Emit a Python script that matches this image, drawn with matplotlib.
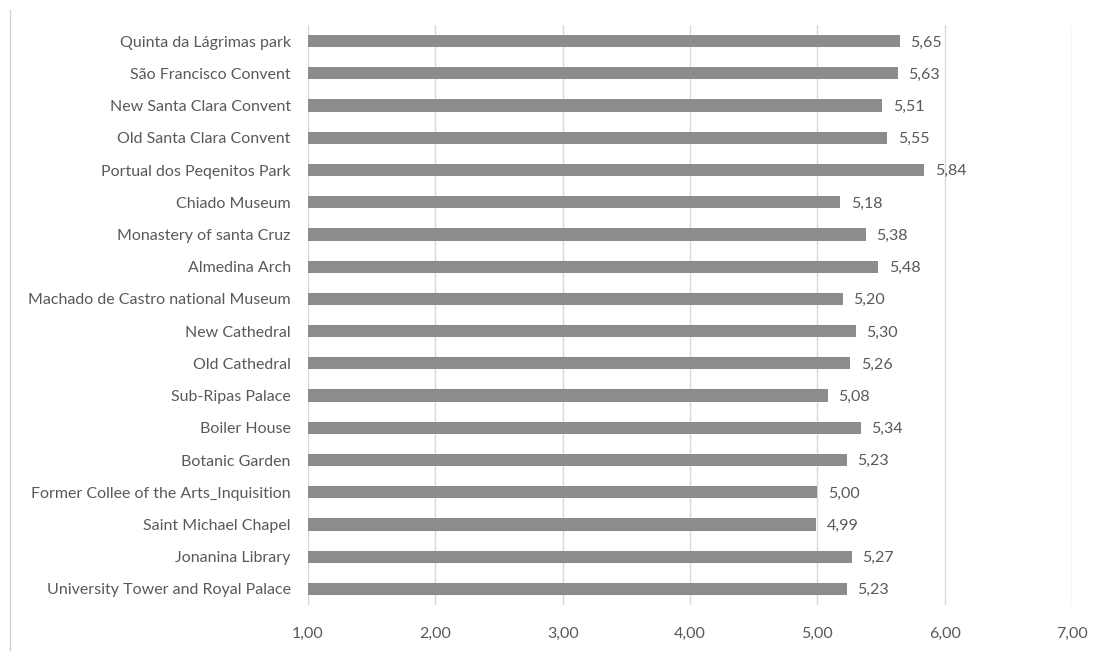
import matplotlib
matplotlib.use("Agg")
import matplotlib.pyplot as plt
from matplotlib.lines import Line2D

categories = [
    "University Tower and Royal Palace",
    "Jonanina Library",
    "Saint Michael Chapel",
    "Former Collee of the Arts_Inquisition",
    "Botanic Garden",
    "Boiler House",
    "Sub-Ripas Palace",
    "Old Cathedral",
    "New Cathedral",
    "Machado de Castro national Museum",
    "Almedina Arch",
    "Monastery of santa Cruz",
    "Chiado Museum",
    "Portual dos Peqenitos Park",
    "Old Santa Clara Convent",
    "New Santa Clara Convent",
    "São Francisco Convent",
    "Quinta da Lágrimas park",
]
values = [5.23, 5.27, 4.99, 5.00, 5.23, 5.34, 5.08, 5.26, 5.30, 5.20,
          5.48, 5.38, 5.18, 5.84, 5.55, 5.51, 5.63, 5.65]
xticks = [1, 2, 3, 4, 5, 6, 7]

plt.rcParams['font.family'] = ['Lato', 'DejaVu Sans']
txt = '#595959'

fig = plt.figure(figsize=(10.99, 6.51), dpi=100)
ax = fig.add_axes([308/1099, 1-605/651, (1072-308)/1099, (605-25)/651])

y = list(range(len(categories)))
ax.barh(y, [v - 1 for v in values], left=1, height=0.38, color='#8c8c8c', zorder=3)
for yi, v in zip(y, values):
    ax.annotate(f"{v:.2f}".replace('.', ','), (v, yi), xytext=(7.5, -1),
                textcoords='offset points', va='center', ha='left',
                fontsize=11.5, color=txt)

ax.set_xlim(1, 7)
ax.set_ylim(-0.5, len(categories) - 0.5)
ax.set_xticks(xticks)
ax.set_xticklabels([f"{t:.2f}".replace('.', ',') for t in xticks], fontsize=11.5, color=txt)
ax.set_yticks(y)
ax.set_yticklabels(categories, fontsize=11.5, color=txt)
ax.tick_params(axis='both', length=0)
ax.tick_params(axis='y', pad=12.5)
ax.tick_params(axis='x', pad=15.5)
ax.grid(axis='x', color='#d9d9d9', linewidth=1, zorder=0)
for s in ax.spines.values():
    s.set_visible(False)

fig.add_artist(Line2D([9.5/1099, 9.5/1099], [0, 1-10/651], transform=fig.transFigure,
                      color='#d0d0d0', linewidth=1))

fig.savefig('out.png', dpi=100)
